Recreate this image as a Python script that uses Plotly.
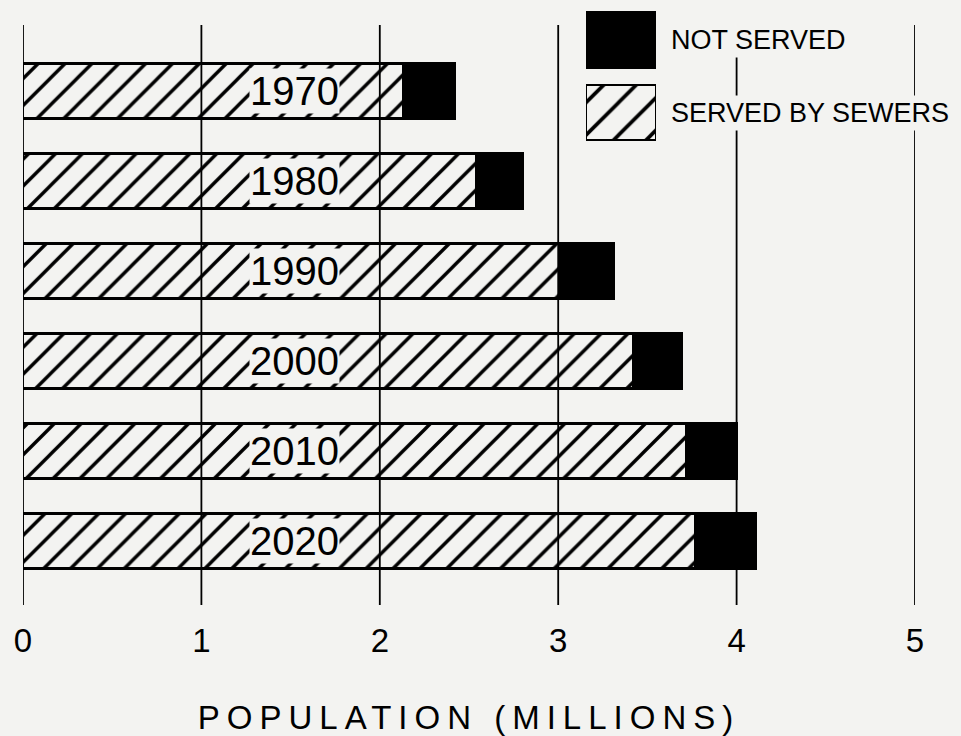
import plotly.graph_objects as go

years = ["1970", "1980", "1990", "2000", "2010", "2020"]
served = [2.13, 2.54, 3.01, 3.42, 3.72, 3.77]
not_served = [0.29, 0.26, 0.30, 0.27, 0.28, 0.34]
x_ticks = [0, 1, 2, 3, 4, 5]
legend_labels = ["NOT SERVED", "SERVED BY SEWERS"]
label_x = 1.52

BG = "#f3f3f1"
FONT = "Liberation Sans, Arial, sans-serif"
HATCH = dict(shape="/", fgcolor="#000000", fgopacity=1, bgcolor=BG, size=19, solidity=0.18)

fig = go.Figure()
fig.add_trace(go.Bar(
    y=years, x=served, orientation="h", name=legend_labels[1],
    width=0.61, showlegend=False,
    marker=dict(color=BG, line=dict(color="black", width=2.5), pattern=HATCH),
))
fig.add_trace(go.Bar(
    y=years, x=not_served, orientation="h", name=legend_labels[0],
    width=0.61, showlegend=False,
    marker=dict(color="black", line=dict(color="black", width=2.5)),
))

# legend keys drawn as a small bar chart on a second pair of axes
fig.add_trace(go.Bar(
    y=[legend_labels[0]], x=[1], orientation="h", xaxis="x2", yaxis="y2",
    width=0.76, showlegend=False, hoverinfo="skip",
    marker=dict(color="black", line=dict(color="black", width=2.5)),
))
fig.add_trace(go.Bar(
    y=[legend_labels[1]], x=[1], orientation="h", xaxis="x2", yaxis="y2",
    width=0.76, showlegend=False, hoverinfo="skip",
    marker=dict(color=BG, line=dict(color="black", width=2.5),
                pattern=dict(shape="/", fgcolor="#000000", fgopacity=1, bgcolor=BG,
                             size=23, solidity=0.16)),
))

for xv in x_ticks:
    fig.add_shape(type="line", xref="x", yref="paper", x0=xv, x1=xv,
                  y0=0, y1=0.9667, layer="above",
                  line=dict(color="black", width=1.8))

for i, yr in enumerate(years):
    fig.add_annotation(x=label_x, y=i, xref="x", yref="y", text=yr, showarrow=False,
                       font=dict(family=FONT, size=40, color="black"),
                       bgcolor=BG, borderpad=0)

for i, lab in enumerate(legend_labels):
    fig.add_annotation(x=0.7231, y=i, xref="paper", yref="y2", text=lab, showarrow=False,
                       xanchor="left",
                       font=dict(family=FONT, size=27, color="black"),
                       bgcolor=BG, borderpad=2)

fig.update_layout(
    barmode="stack",
    width=961, height=736,
    paper_bgcolor=BG, plot_bgcolor=BG,
    margin=dict(l=23, r=46, t=5, b=131),
    showlegend=False,
    xaxis=dict(range=[0, 5], tickvals=x_ticks, ticktext=[str(v) for v in x_ticks],
               showgrid=False, zeroline=False, showline=False, ticks="",
               ticklabelstandoff=13,
               tickfont=dict(family=FONT, size=33, color="black"),
               title=dict(text='<span style="letter-spacing:7px">POPULATION (MILLIONS)</span>',
                          standoff=47,
                          font=dict(family=FONT, size=33, color="black"))),
    yaxis=dict(type="category", categoryorder="array", categoryarray=years,
               domain=[0, 0.9667], range=[5.711, -0.733], showticklabels=False,
               showgrid=False, zeroline=False, showline=False, ticks=""),
    xaxis2=dict(domain=[0.6312, 0.7096], range=[0, 1], anchor="y2", visible=False),
    yaxis2=dict(type="category", categoryorder="array", categoryarray=legend_labels,
                domain=[0.7583, 1], range=[1.517, -0.483], anchor="x2", visible=False),
)

fig.write_html("out.html", config={"displayModeBar": False},
               post_script="document.body.style.margin='0';")
